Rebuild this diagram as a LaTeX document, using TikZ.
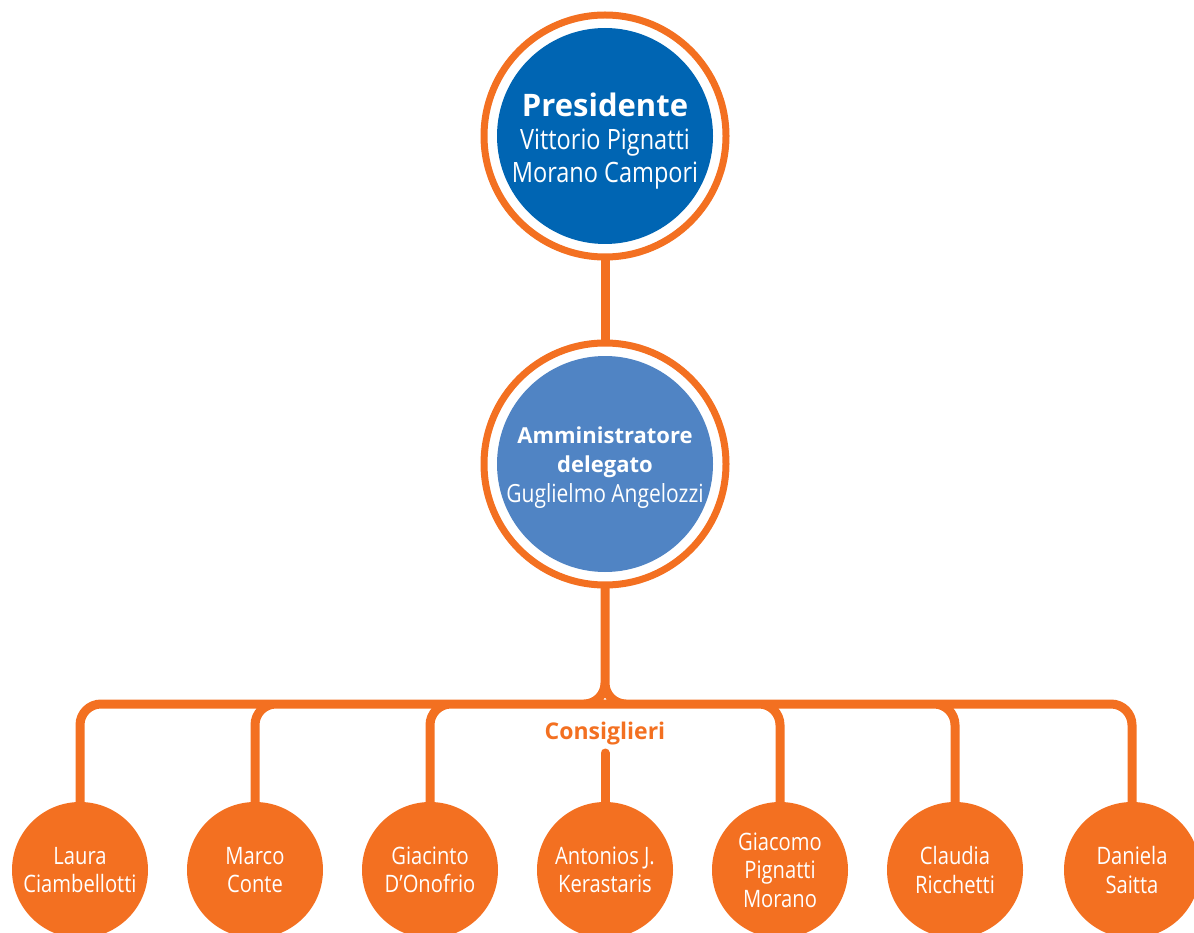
\documentclass[tikz,border=0pt]{standalone}
\usepackage{fontspec}
\usetikzlibrary{calc}
\setmainfont{Open Sans}
\newfontfamily\cond[FakeStretch=0.84]{Open Sans}
\definecolor{orgn}{RGB}{243,112,33}
\definecolor{dblue}{RGB}{0,101,179}
\definecolor{mblue}{RGB}{80,132,196}
\tikzset{
  ring/.style={circle, draw=orgn, line width=7pt, fill=white, minimum size=242pt, inner sep=0pt, outer sep=0pt},
  disc/.style={circle, fill=#1, minimum size=216pt, inner sep=0pt, outer sep=0pt},
  headtext/.style={text=white, align=center},
  member/.style={circle, fill=orgn, minimum size=136pt, inner sep=0pt, outer sep=0pt, text=white, align=center, font=\cond\fontsize{24}{28.5}\selectfont},
  conn/.style={draw=orgn, line width=9pt, rounded corners=21pt},
}
\begin{document}
\begin{tikzpicture}[x=1pt, y=-1pt]
\useasboundingbox (0,0) rectangle (1194,933);
% top circle
\node[ring] (pres) at (605,136) {};
\node[disc=dblue] (presd) at (605,136) {};
\node[headtext, font=\cond\fontsize{28}{33}\selectfont] (prest) at (605,141)
  {{\normalfont\bfseries\fontsize{31}{33}\selectfont Presidente}\\Vittorio Pignatti\\Morano Campori};
% middle circle
\node[ring] (ad) at (605,464) {};
\node[disc=mblue] (add) at (605,464) {};
\node[headtext, font=\cond\fontsize{25}{29.5}\selectfont] (adt) at (605,467.5)
  {{\normalfont\bfseries\fontsize{22}{29.5}\selectfont Amministratore}\\{\normalfont\bfseries\fontsize{22}{29.5}\selectfont delegato}\\Guglielmo Angelozzi};
% members
\node[member] (m1) at (80,870) {Laura\\Ciambellotti};
\node[member] (m2) at (255,870) {Marco\\Conte};
\node[member] (m3) at (430,870) {Giacinto\\D’Onofrio};
\node[member] (m4) at (605,870) {Antonios J.\\Kerastaris};
\node[member] (m5) at (780,870) {Giacomo\\Pignatti\\Morano};
\node[member] (m6) at (955,870) {Claudia\\Ricchetti};
\node[member] (m7) at (1132,870) {Daniela\\Saitta};
\node[text=orgn, font=\bfseries\fontsize{23}{26}\selectfont] (cons) at (605,734) {Consiglieri};
\coordinate (hbar) at (605,704);
\coordinate (stub) at (605,753);
% connectors
\draw[conn, rounded corners=0pt] (pres.south) -- (ad.north);
% the whole tree as one stroked path
\draw[conn]
  (m1.north) |- (hbar) -| (m7.north)
  (ad.south) |- ($(hbar)+(-40,0)$)
  (ad.south) |- ($(hbar)+(40,0)$)
  (m2.north) |- ($(m2.north |- hbar)+(40,0)$)
  (m3.north) |- ($(m3.north |- hbar)+(40,0)$)
  (m5.north) |- ($(m5.north |- hbar)+(-40,0)$)
  (m6.north) |- ($(m6.north |- hbar)+(-40,0)$);
\draw[conn, line cap=round] (stub) -- (m4.north);
\end{tikzpicture}
\end{document}
